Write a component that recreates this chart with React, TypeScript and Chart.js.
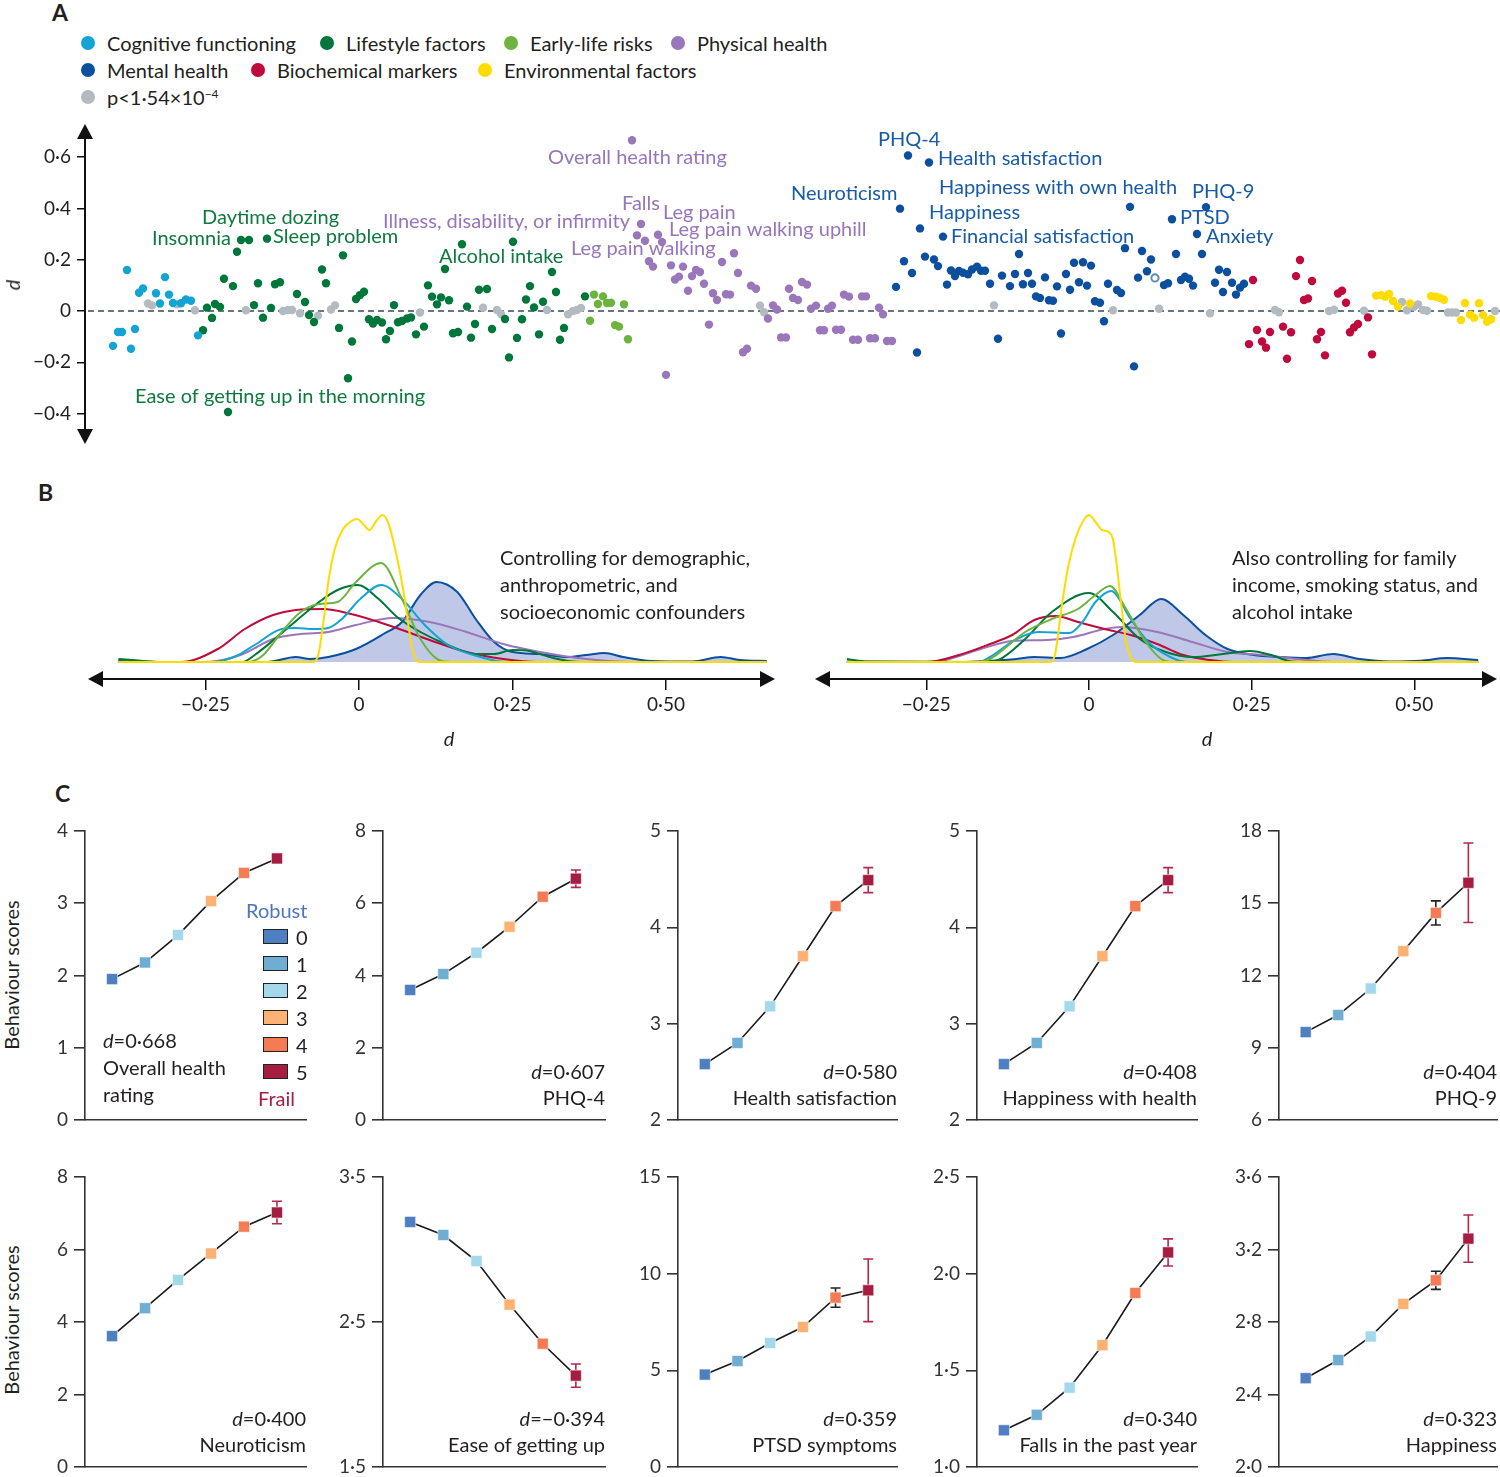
import React, { useEffect, useRef } from "react";
import { Chart, registerables } from "chart.js";

Chart.register(...registerables);

type Pt = [number, number];

const FONT = "Lato, 'Open Sans', 'DejaVu Sans', sans-serif";
const INK = "#231f20";
const AX = "#333333";

// ---------- colours ----------
const COL_COG = "#13a4d3";
const COL_LIFE = "#00773a";
const COL_EARLY = "#6cb33f";
const COL_PHYS = "#9a77ba";
const COL_MENTAL = "#0b4f9e";
const COL_BIO = "#be0a3c";
const COL_ENV = "#ffdc00";
const COL_NS = "#b3bac0";
const FRAIL_COLS = ["#4e7fc0", "#6faed2", "#a3d9ea", "#fdb173", "#f57b54", "#a61d42"];

// ---------- Panel A data: [variable position, d] ----------
const cognitive: Pt[] = [
  [113, -0.136], [118, -0.082], [122, -0.082], [127, 0.16], [131, -0.147], [135, -0.07], [139, 0.071], [143, 0.088],
  [156, 0.069], [160, 0.029], [165, 0.132], [169, 0.064], [173, 0.031], [181, 0.03], [186, 0.045], [191, 0.04], [198, -0.095],
];
const lifestyle: Pt[] = [
  [203, -0.075], [207, 0.013], [212, -0.027], [215, 0.027], [220, 0.016], [224, 0.126], [228, -0.394], [233, 0.097], [237, 0.231],
  [241, 0.277], [249, 0.277], [254, 0.023], [258, 0.108], [263, -0.026], [267, 0.282], [271, 0.012], [275, 0.104], [280, 0.112],
  [297, 0.066], [305, 0.035], [309, -0.016], [314, -0.043], [322, 0.162], [326, 0.108], [339, -0.066], [343, 0.217], [348, -0.262],
  [352, -0.119], [356, 0.047], [360, 0.062], [364, 0.075], [369, -0.032], [373, -0.049], [377, -0.035], [382, -0.045], [386, -0.11],
  [390, -0.078], [394, 0.023], [398, -0.044], [402, -0.039], [407, -0.029], [411, -0.025], [416, -0.091], [424, -0.061], [428, 0.1],
  [432, 0.056], [437, 0.026], [441, 0.053], [445, 0.164], [449, 0.042], [453, -0.087], [458, -0.082], [462, 0.26], [467, 0.017],
  [471, -0.104], [475, -0.051], [479, 0.083], [487, 0.086], [492, -0.07], [505, -0.031], [509, -0.181], [513, 0.27], [517, -0.105],
  [522, -0.032], [526, 0.045], [530, 0.097], [534, 0.014], [539, -0.091], [543, 0.036], [552, 0.152], [556, 0.074], [560, -0.112],
  [564, -0.066], [585, 0.057],
];
const earlyLife: Pt[] = [
  [590, -0.038], [594, 0.064], [598, 0.027], [603, 0.057], [607, 0.031], [611, 0.032], [615, -0.055], [619, -0.061], [624, 0.026], [628, -0.11],
];
const physical: Pt[] = [
  [632, 0.666], [637, 0.295], [641, 0.339], [645, 0.274], [649, 0.194], [653, 0.173], [658, 0.297], [662, 0.269], [666, -0.249],
  [671, 0.178], [675, 0.123], [679, 0.134], [683, 0.173], [688, 0.079], [692, 0.136], [696, 0.16], [700, 0.152], [704, 0.106],
  [709, -0.053], [713, 0.069], [717, 0.043], [722, 0.191], [726, 0.065], [730, 0.064], [734, 0.225], [738, 0.148], [743, -0.161],
  [747, -0.147], [751, 0.099], [756, 0.087], [768, -0.029], [773, 0.022], [777, 0.006], [781, -0.103], [786, -0.103], [789, 0.087],
  [793, 0.051], [798, 0.043], [802, 0.113], [807, 0.103], [811, 0.009], [816, 0.021], [820, -0.075], [824, -0.075], [828, 0.009],
  [832, 0.021], [836, -0.073], [841, -0.073], [844, 0.064], [849, 0.056], [853, -0.112], [858, -0.112], [862, 0.057], [866, 0.057],
  [870, -0.106], [875, -0.106], [879, 0.013], [883, -0.013], [887, -0.117], [892, -0.117],
];
const mental: Pt[] = [
  [896, 0.094], [900, 0.399], [904, 0.194], [908, 0.606], [912, 0.148], [917, -0.162], [920, 0.322], [925, 0.212], [929, 0.579],
  [934, 0.201], [938, 0.175], [943, 0.29], [947, 0.103], [951, 0.158], [955, 0.136], [959, 0.156], [963, 0.149], [968, 0.143],
  [972, 0.162], [977, 0.173], [981, 0.157], [985, 0.157], [990, 0.106], [998, -0.108], [1002, 0.138], [1010, 0.097], [1015, 0.144],
  [1019, 0.222], [1023, 0.104], [1028, 0.148], [1032, 0.106], [1036, 0.057], [1040, 0.051], [1045, 0.131], [1049, 0.042],
  [1053, 0.04], [1057, 0.096], [1061, -0.088], [1066, 0.144], [1070, 0.083], [1074, 0.188], [1079, 0.112], [1083, 0.19],
  [1087, 0.099], [1091, 0.177], [1095, 0.038], [1100, 0.032], [1104, -0.04], [1108, 0.106], [1117, 0.082], [1121, 0.07],
  [1125, 0.245], [1130, 0.406], [1134, -0.216], [1138, 0.13], [1142, 0.234], [1147, 0.155], [1151, 0.201], [1164, 0.101],
  [1168, 0.108], [1172, 0.358], [1176, 0.222], [1181, 0.121], [1185, 0.134], [1189, 0.126], [1193, 0.099], [1197, 0.3],
  [1202, 0.222], [1206, 0.405], [1215, 0.11], [1219, 0.161], [1223, 0.074], [1227, 0.152], [1232, 0.11], [1236, 0.064],
  [1240, 0.091], [1244, 0.106],
];
const mentalOpen: Pt[] = [[1155, 0.129]];
const biochemical: Pt[] = [
  [1249, -0.129], [1253, 0.121], [1257, -0.074], [1262, -0.119], [1266, -0.143], [1270, -0.082], [1283, -0.061], [1287, -0.186],
  [1291, -0.083], [1296, 0.136], [1300, 0.199], [1304, 0.043], [1308, 0.049], [1312, 0.117], [1317, -0.11], [1321, -0.082],
  [1325, -0.173], [1338, 0.068], [1342, 0.079], [1346, 0.032], [1350, -0.083], [1354, -0.064], [1358, -0.051], [1368, -0.025], [1372, -0.169],
];
const environmental: Pt[] = [
  [1376, 0.06], [1381, 0.062], [1385, 0.055], [1389, 0.066], [1393, 0.039], [1398, 0.017], [1410, 0.029], [1431, 0.058],
  [1436, 0.056], [1440, 0.051], [1444, 0.044], [1461, -0.035], [1465, 0.031], [1470, -0.014], [1474, -0.026], [1479, 0.03],
  [1483, -0.016], [1487, -0.042], [1491, -0.032],
];
const nonSignificant: Pt[] = [
  [148, 0.029], [152, 0.022], [177, 0.026], [195, 0.003], [246, 0.003], [283, 0], [288, 0.004], [292, 0.004], [300, -0.009],
  [318, -0.018], [331, 0.006], [335, 0.022], [420, -0.006], [483, 0.013], [497, 0.004], [501, -0.012], [547, 0.004], [568, -0.013],
  [573, 0], [577, 0.004], [581, 0.012], [760, 0.021], [764, -0.005], [994, 0.022], [1113, 0.003], [1159, 0.009], [1210, -0.009],
  [1275, 0.004], [1279, -0.005], [1329, 0], [1334, 0.005], [1364, 0.001], [1402, 0.035], [1407, 0.003], [1414, 0.016], [1418, 0.026],
  [1423, 0.004], [1427, 0.001], [1448, -0.006], [1452, -0.006], [1456, -0.006], [1495, 0],
];
const aTicks = [-0.4, -0.2, 0, 0.2, 0.4, 0.6];

// labelled variables: text, anchor position, anchor d, group
const aLabels: [string, number, number, string][] = [
  ["Daytime dozing", 202, 0.363, "life"],
  ["Insomnia", 152, 0.281, "life"],
  ["Sleep problem", 273, 0.292, "life"],
  ["Ease of getting up in the morning", 135, -0.335, "life"],
  ["Alcohol intake", 439, 0.214, "life"],
  ["Illness, disability, or infirmity", 383, 0.347, "phys"],
  ["Overall health rating", 548, 0.6, "phys"],
  ["Falls", 622, 0.417, "phys"],
  ["Leg pain", 663, 0.382, "phys"],
  ["Leg pain walking uphill", 669, 0.316, "phys"],
  ["Leg pain walking", 571, 0.242, "phys"],
  ["PHQ-4", 878, 0.667, "ment"],
  ["Health satisfaction", 938, 0.593, "ment"],
  ["Neuroticism", 791, 0.456, "ment"],
  ["Happiness with own health", 939, 0.48, "ment"],
  ["Happiness", 929, 0.382, "ment"],
  ["Financial satisfaction", 951, 0.289, "ment"],
  ["PHQ-9", 1192, 0.464, "ment"],
  ["PTSD", 1180, 0.363, "ment"],
  ["Anxiety", 1206, 0.289, "ment"],
];
const LABEL_COL: Record<string, string> = { life: "#0d7a3e", phys: "#9775ba", ment: "#175aa7" };

// ---------- Panel B data: [d, density height] ----------
const bL_env: Pt[] = [[-0.392, 0], [-0.075, 0], [-0.066, 8], [-0.058, 40], [-0.05, 80], [-0.04, 112], [-0.027, 132], [-0.012, 141], [-0.003, 143], [0.008, 137], [0.017, 132], [0.028, 141], [0.038, 147], [0.047, 140], [0.055, 123], [0.065, 95], [0.074, 65], [0.082, 30], [0.089, 7], [0.1, 0], [0.664, 0]];
const bL_early: Pt[] = [[-0.392, 0], [-0.18, 0], [-0.156, 7], [-0.126, 30], [-0.095, 50], [-0.065, 58], [-0.035, 60], [-0.005, 80], [0.036, 99], [0.07, 63], [0.1, 23], [0.13, 2], [0.15, 0], [0.664, 0]];
const bL_cog: Pt[] = [[-0.392, 0], [-0.24, 0], [-0.2, 6], [-0.17, 17], [-0.126, 33], [-0.103, 34], [-0.075, 33], [-0.05, 34], [-0.028, 43], [0.002, 63], [0.036, 77], [0.07, 63], [0.107, 37], [0.145, 17], [0.198, 5], [0.24, 0], [0.664, 0]];
const bL_life: Pt[] = [[-0.392, 3], [-0.37, 2], [-0.33, 0], [-0.19, 0], [-0.17, 7], [-0.118, 33], [-0.065, 60], [-0.035, 72], [-0.002, 77], [0.032, 63], [0.062, 45], [0.1, 30], [0.145, 17], [0.19, 8], [0.22, 8], [0.25, 12], [0.277, 11], [0.31, 5], [0.34, 1], [0.37, 0], [0.664, 0]];
const bL_bio: Pt[] = [[-0.392, 0], [-0.29, 0], [-0.23, 13], [-0.186, 33], [-0.14, 47], [-0.103, 52], [-0.058, 53], [-0.013, 48], [0.032, 40], [0.07, 32], [0.115, 22], [0.175, 10], [0.235, 3], [0.29, 0], [0.664, 0]];
const bL_phys: Pt[] = [[-0.392, 0], [-0.25, 0], [-0.193, 7], [-0.14, 23], [-0.095, 28], [-0.05, 30], [-0.005, 37], [0.055, 44], [0.115, 40], [0.175, 30], [0.235, 18], [0.295, 10], [0.37, 3], [0.446, 0], [0.664, 0]];
const bL_mental: Pt[] = [[-0.392, 1], [-0.3, 0], [-0.15, 0], [-0.103, 5], [-0.08, 3], [-0.05, 5], [-0.005, 13], [0.04, 28], [0.07, 40], [0.1, 67], [0.126, 80], [0.16, 70], [0.19, 43], [0.22, 20], [0.25, 10], [0.295, 8], [0.34, 5], [0.37, 7], [0.4, 9], [0.43, 5], [0.476, 1], [0.543, 0.5], [0.589, 5], [0.62, 2], [0.664, 1]];

const bR_env: Pt[] = [[-0.372, 0], [-0.06, 0], [-0.052, 8], [-0.042, 55], [-0.032, 95], [-0.02, 125], [-0.008, 142], [0, 147], [0.01, 140], [0.02, 132], [0.03, 130], [0.037, 122], [0.043, 95], [0.05, 55], [0.057, 20], [0.064, 5], [0.072, 0], [0.598, 0]];
const bR_early: Pt[] = [[-0.372, 0], [-0.17, 0], [-0.152, 3], [-0.098, 30], [-0.057, 43], [-0.017, 53], [0.01, 67], [0.032, 76], [0.057, 53], [0.084, 23], [0.111, 3], [0.13, 0], [0.598, 0]];
const bR_cog: Pt[] = [[-0.372, 0], [-0.17, 0], [-0.152, 5], [-0.111, 23], [-0.078, 30], [-0.03, 29], [-0.01, 40], [0.01, 60], [0.034, 71], [0.064, 43], [0.091, 20], [0.125, 5], [0.15, 0], [0.598, 0]];
const bR_life: Pt[] = [[-0.372, 3], [-0.34, 0.5], [-0.16, 0], [-0.139, 2], [-0.098, 23], [-0.057, 50], [0, 69], [0.037, 50], [0.078, 23], [0.118, 10], [0.159, 5], [0.206, 8], [0.247, 11], [0.28, 7], [0.307, 1], [0.33, 0], [0.598, 0]];
const bR_bio: Pt[] = [[-0.372, 0], [-0.25, 0], [-0.2, 7], [-0.152, 18], [-0.118, 27], [-0.084, 42], [-0.051, 46], [-0.017, 40], [0.024, 33], [0.064, 27], [0.105, 18], [0.145, 7], [0.186, 2], [0.22, 0], [0.598, 0]];
const bR_phys: Pt[] = [[-0.372, 0], [-0.25, 0], [-0.22, 2], [-0.166, 13], [-0.118, 21], [-0.064, 22], [-0.024, 25], [0.024, 33], [0.051, 35], [0.105, 30], [0.159, 20], [0.213, 10], [0.267, 7], [0.321, 3], [0.375, 0], [0.598, 0]];
const bR_mental: Pt[] = [[-0.372, 0.5], [-0.2, 0], [-0.111, 3], [-0.084, 5], [-0.044, 4], [-0.003, 13], [0.037, 27], [0.078, 47], [0.111, 63], [0.145, 47], [0.179, 27], [0.213, 13], [0.253, 7], [0.294, 5], [0.334, 4], [0.375, 8], [0.416, 3], [0.463, 0.5], [0.51, 1.3], [0.55, 4], [0.598, 2]];
const bTicks = [-0.25, 0, 0.25, 0.5];

// ---------- Panel C data (frailty 0..5) ----------
const frailtyLevels = [0, 1, 2, 3, 4, 5];
const c1Vals = [1.95, 2.18, 2.56, 3.03, 3.42, 3.62];
const c1Err = [0, 0, 0, 0, 0, 0];
const c2Vals = [3.6, 4.04, 4.63, 5.35, 6.18, 6.68];
const c2Err = [0, 0, 0, 0, 0, 0.24];
const c3Vals = [2.58, 2.8, 3.18, 3.7, 4.22, 4.49];
const c3Err = [0, 0, 0, 0, 0.03, 0.13];
const c4Vals = [2.58, 2.8, 3.18, 3.7, 4.22, 4.49];
const c4Err = [0, 0, 0, 0, 0.03, 0.13];
const c5Vals = [9.65, 10.36, 11.46, 13.01, 14.6, 15.85];
const c5Err = [0, 0, 0, 0, 0.5, 1.65];
const c6Vals = [3.61, 4.38, 5.16, 5.89, 6.63, 7.02];
const c6Err = [0, 0, 0, 0, 0, 0.31];
const c7Vals = [3.19, 3.1, 2.92, 2.62, 2.35, 2.13];
const c7Err = [0, 0, 0, 0, 0, 0.08];
const c8Vals = [4.78, 5.48, 6.41, 7.24, 8.76, 9.14];
const c8Err = [0, 0, 0, 0, 0.5, 1.62];
const c9Vals = [1.19, 1.27, 1.41, 1.63, 1.9, 2.11];
const c9Err = [0, 0, 0, 0, 0, 0.07];
const c10Vals = [2.49, 2.59, 2.72, 2.9, 3.03, 3.26];
const c10Err = [0, 0, 0, 0, 0.05, 0.13];

const c1Ticks = [0, 1, 2, 3, 4];
const c2Ticks = [0, 2, 4, 6, 8];
const c3Ticks = [2, 3, 4, 5];
const c5Ticks = [6, 9, 12, 15, 18];
const c7Ticks = [1.5, 2.5, 3.5];
const c8Ticks = [0, 5, 10, 15];
const c9Ticks = [1, 1.5, 2, 2.5];
const c10Ticks = [2, 2.4, 2.8, 3.2, 3.6];

// ---------- helpers ----------
function fmt(v: number, dec: number): string {
  if (Math.abs(v) < 1e-9) return "0";
  const s = Math.abs(v).toFixed(dec).replace(".", "\u00b7");
  return (v < 0 ? "\u2212" : "") + s;
}

function ChartCanvas({ x, y, w, h, make }: { x: number; y: number; w: number; h: number; make: () => any }) {
  const ref = useRef<HTMLCanvasElement | null>(null);
  useEffect(() => {
    if (!ref.current) return;
    const c = new Chart(ref.current, make());
    return () => c.destroy();
  }, []);
  return <canvas ref={ref} width={w} height={h} style={{ position: "absolute", left: x, top: y, width: w, height: h }} />;
}

function T({ x, y, children, size = 20, align = "left", color = INK, italic = false, bold = false }: any) {
  const style: any = {
    position: "absolute",
    top: y - size * 0.66,
    lineHeight: `${Math.round(size * 1.32)}px`,
    fontSize: size,
    color,
    whiteSpace: "nowrap",
    fontStyle: italic ? "italic" : "normal",
    fontWeight: bold ? 700 : 400,
  };
  if (align === "right") {
    style.right = 1500 - x;
    style.textAlign = "right";
  } else if (align === "center") {
    style.left = x;
    style.transform = "translateX(-50%)";
  } else {
    style.left = x;
  }
  return <div style={style}>{children}</div>;
}

// ---------- Panel A ----------
const aPlugin = {
  id: "aDecor",
  beforeDatasetsDraw(chart: any) {
    const { ctx, chartArea, scales } = chart;
    const y0 = scales.y.getPixelForValue(0);
    ctx.save();
    ctx.strokeStyle = "#34495a";
    ctx.lineWidth = 1.3;
    ctx.setLineDash([6, 4]);
    ctx.beginPath();
    ctx.moveTo(chartArea.left + 3, y0);
    ctx.lineTo(chartArea.right, y0);
    ctx.stroke();
    ctx.restore();
  },
  afterDraw(chart: any) {
    const { ctx, chartArea, scales } = chart;
    const L = chartArea.left;
    ctx.save();
    ctx.fillStyle = "#111";
    ctx.beginPath();
    ctx.moveTo(L, chartArea.top - 4);
    ctx.lineTo(L - 8, chartArea.top + 11);
    ctx.lineTo(L + 8, chartArea.top + 11);
    ctx.closePath();
    ctx.fill();
    ctx.beginPath();
    ctx.moveTo(L, chartArea.bottom + 4);
    ctx.lineTo(L - 8, chartArea.bottom - 11);
    ctx.lineTo(L + 8, chartArea.bottom - 11);
    ctx.closePath();
    ctx.fill();
    ctx.font = `20px ${FONT}`;
    ctx.textBaseline = "middle";
    ctx.textAlign = "left";
    aLabels.forEach(([text, px, d, g]) => {
      ctx.fillStyle = LABEL_COL[g];
      ctx.fillText(text, scales.x.getPixelForValue(px), scales.y.getPixelForValue(d));
    });
    ctx.restore();
  },
};

function makeA() {
  const ds = (data: Pt[], color: string, extra: any = {}) => ({
    data: data.map(([x, y]) => ({ x, y })),
    backgroundColor: color,
    borderColor: color,
    pointRadius: 4.2,
    pointHoverRadius: 4.2,
    pointBorderWidth: 0,
    ...extra,
  });
  return {
    type: "scatter",
    data: {
      datasets: [
        ds(cognitive, COL_COG),
        ds(lifestyle, COL_LIFE),
        ds(earlyLife, COL_EARLY),
        ds(physical, COL_PHYS),
        ds(mentalOpen, "#ffffff", { borderColor: "#5a8db5", pointBorderWidth: 2, pointRadius: 3.6 }),
        ds(mental, COL_MENTAL),
        ds(biochemical, COL_BIO),
        ds(environmental, COL_ENV),
        ds(nonSignificant, COL_NS),
      ],
    },
    options: {
      responsive: false,
      animation: false,
      devicePixelRatio: 1,
      layout: { autoPadding: false, padding: { top: 18, bottom: 20, left: 0, right: 0 } },
      plugins: { legend: { display: false }, tooltip: { enabled: false } },
      scales: {
        x: { type: "linear", min: 85, max: 1500, display: false },
        y: {
          type: "linear",
          min: -0.503,
          max: 0.7135,
          afterFit: (s: any) => { s.width = 85; },
          afterBuildTicks: (s: any) => { s.ticks = aTicks.map((v) => ({ value: v })); },
          ticks: { callback: (v: any) => fmt(Number(v), 1), font: { family: FONT, size: 19 }, color: INK, padding: 6 },
          grid: { drawOnChartArea: false, drawTicks: true, tickLength: 8, color: "#111", lineWidth: 1.5 },
          border: { display: true, color: "#111", width: 2 },
        },
      },
    },
    plugins: [aPlugin],
  };
}

// ---------- Panel B ----------
const arrowAxisPlugin = {
  id: "arrowAxis",
  afterDraw(chart: any) {
    const { ctx, chartArea } = chart;
    const yb = chartArea.bottom;
    ctx.save();
    ctx.strokeStyle = "#111";
    ctx.fillStyle = "#111";
    ctx.lineWidth = 2;
    ctx.beginPath();
    ctx.moveTo(chartArea.left + 8, yb);
    ctx.lineTo(chartArea.right - 8, yb);
    ctx.stroke();
    ctx.beginPath();
    ctx.moveTo(chartArea.left, yb);
    ctx.lineTo(chartArea.left + 15, yb - 8);
    ctx.lineTo(chartArea.left + 15, yb + 8);
    ctx.closePath();
    ctx.fill();
    ctx.beginPath();
    ctx.moveTo(chartArea.right, yb);
    ctx.lineTo(chartArea.right - 15, yb - 8);
    ctx.lineTo(chartArea.right - 15, yb + 8);
    ctx.closePath();
    ctx.fill();
    ctx.restore();
  },
};

function makeDensity(curves: [Pt[], string][], xmin: number, xmax: number, padL: number, padR: number) {
  return {
    type: "line",
    data: {
      datasets: curves.map(([pts, color]) => ({
        data: pts.map(([x, y]) => ({ x, y })),
        borderColor: color,
        borderWidth: 2,
        pointRadius: 0,
        cubicInterpolationMode: "monotone",
        fill: color === COL_MENTAL ? "origin" : false,
        backgroundColor: color === COL_MENTAL ? "rgba(140,154,212,0.55)" : color,
      })),
    },
    options: {
      responsive: false,
      animation: false,
      devicePixelRatio: 1,
      layout: { autoPadding: false, padding: { left: padL, right: padR, top: 10, bottom: 0 } },
      plugins: { legend: { display: false }, tooltip: { enabled: false } },
      scales: {
        x: {
          type: "linear",
          min: xmin,
          max: xmax,
          afterBuildTicks: (s: any) => { s.ticks = bTicks.map((v) => ({ value: v })); },
          afterFit: (s: any) => { s.height = 61; },
          ticks: { callback: (v: any) => fmt(Number(v), 2), font: { family: FONT, size: 19 }, color: INK, padding: 3, maxRotation: 0, autoSkip: false },
          grid: { drawOnChartArea: false, drawTicks: true, tickLength: 11, color: "#111", lineWidth: 1.5 },
          border: { display: false },
        },
        y: { type: "linear", min: -17, max: 157, display: false },
      },
    },
    plugins: [arrowAxisPlugin],
  };
}

// ---------- Panel C ----------
const errPlugin = {
  id: "errBars",
  beforeDatasetsDraw(chart: any) {
    const ds = chart.data.datasets[0];
    const errs: number[] = ds.errs || [];
    const { ctx, scales } = chart;
    ctx.save();
    ctx.lineWidth = 1.6;
    ds.data.forEach((p: any, i: number) => {
      const e = errs[i];
      if (!e) return;
      const px = scales.x.getPixelForValue(p.x);
      const y1 = scales.y.getPixelForValue(p.y + e);
      const y2 = scales.y.getPixelForValue(p.y - e);
      ctx.strokeStyle = i === 5 ? "#b3294f" : "#222";
      ctx.beginPath();
      ctx.moveTo(px, y1);
      ctx.lineTo(px, y2);
      ctx.moveTo(px - 5, y1);
      ctx.lineTo(px + 5, y1);
      ctx.moveTo(px - 5, y2);
      ctx.lineTo(px + 5, y2);
      ctx.stroke();
    });
    ctx.restore();
  },
};

function makeSmall(vals: number[], errs: number[], min: number, max: number, ticks: number[], dec: number) {
  return {
    type: "line",
    data: {
      datasets: [
        {
          data: vals.map((v, i) => ({ x: frailtyLevels[i], y: v })),
          errs,
          borderColor: "#1a1a1a",
          borderWidth: 1.6,
          pointStyle: "rect",
          pointRadius: 7.8,
          pointHoverRadius: 7.8,
          pointBackgroundColor: FRAIL_COLS,
          pointBorderColor: "rgba(255,255,255,0.55)",
          pointBorderWidth: 1,
          tension: 0,
        },
      ],
    },
    options: {
      responsive: false,
      animation: false,
      devicePixelRatio: 1,
      layout: { autoPadding: false, padding: { left: 0, right: 10, top: 22, bottom: 22 } },
      plugins: { legend: { display: false }, tooltip: { enabled: false } },
      scales: {
        x: {
          type: "linear",
          min: -0.82,
          max: 5.88,
          ticks: { display: false },
          grid: { display: false },
          border: { display: true, color: AX, width: 1.6 },
          afterFit: (s: any) => { s.height = 0; },
        },
        y: {
          type: "linear",
          min,
          max,
          afterBuildTicks: (s: any) => { s.ticks = ticks.map((v) => ({ value: v })); },
          afterFit: (s: any) => { s.width = 60; },
          ticks: { callback: (v: any) => fmt(Number(v), dec), font: { family: FONT, size: 19 }, color: "#333", padding: 6 },
          grid: { drawOnChartArea: false, drawTicks: true, tickLength: 11, color: AX, lineWidth: 1.6 },
          border: { display: true, color: AX, width: 1.6 },
        },
      },
    },
    plugins: [errPlugin],
  };
}

const C_AXIS_X = [85, 383, 678, 977, 1279];
const C_END_X = [306, 605, 897, 1197, 1497];
const C_TOP = [831, 1177];
const C_BOT = [1120, 1467];

const cCharts: [number[], number[], number, number, number[], number][] = [
  [c1Vals, c1Err, 0, 4, c1Ticks, 0],
  [c2Vals, c2Err, 0, 8, c2Ticks, 0],
  [c3Vals, c3Err, 2, 5, c3Ticks, 0],
  [c4Vals, c4Err, 2, 5, c3Ticks, 0],
  [c5Vals, c5Err, 6, 18, c5Ticks, 0],
  [c6Vals, c6Err, 0, 8, c2Ticks, 0],
  [c7Vals, c7Err, 1.5, 3.5, c7Ticks, 1],
  [c8Vals, c8Err, 0, 15, c8Ticks, 0],
  [c9Vals, c9Err, 1, 2.5, c9Ticks, 1],
  [c10Vals, c10Err, 2, 3.6, c10Ticks, 1],
];
const cNotes: [string, string][] = [
  ["0\u00b7668", "Overall health rating"],
  ["0\u00b7607", "PHQ-4"],
  ["0\u00b7580", "Health satisfaction"],
  ["0\u00b7408", "Happiness with health"],
  ["0\u00b7404", "PHQ-9"],
  ["0\u00b7400", "Neuroticism"],
  ["\u22120\u00b7394", "Ease of getting up"],
  ["0\u00b7359", "PTSD symptoms"],
  ["0\u00b7340", "Falls in the past year"],
  ["0\u00b7323", "Happiness"],
];

const legendA: [number, number, string, string][] = [
  [88, 43, "Cognitive functioning", COL_COG],
  [327, 43, "Lifestyle factors", COL_LIFE],
  [511, 43, "Early-life risks", COL_EARLY],
  [678, 43, "Physical health", COL_PHYS],
  [88, 70, "Mental health", COL_MENTAL],
  [258, 70, "Biochemical markers", COL_BIO],
  [485, 70, "Environmental factors", COL_ENV],
];

export default function App() {
  return (
    <div style={{ position: "absolute", left: 0, top: 0, width: 1500, height: 1477, background: "#fff", fontFamily: FONT, color: INK, overflow: "hidden" }}>
      {/* Panel A */}
      <ChartCanvas x={0} y={110} w={1500} h={350} make={makeA} />
      {/* Panel B */}
      <ChartCanvas
        x={80} y={495} w={705} h={245}
        make={() => makeDensity([[bL_env, COL_ENV], [bL_early, COL_EARLY], [bL_cog, COL_COG], [bL_life, COL_LIFE], [bL_bio, COL_BIO], [bL_phys, COL_PHYS], [bL_mental, COL_MENTAL]], -0.4414, 0.6775, 8, 10)}
      />
      <ChartCanvas
        x={805} y={495} w={695} h={245}
        make={() => makeDensity([[bR_env, COL_ENV], [bR_early, COL_EARLY], [bR_cog, COL_COG], [bR_life, COL_LIFE], [bR_bio, COL_BIO], [bR_phys, COL_PHYS], [bR_mental, COL_MENTAL]], -0.421, 0.627, 10, 3)}
      />
      {/* Panel C */}
      {cCharts.map(([vals, errs, mn, mx, ticks, dec], i) => {
        const col = i % 5;
        const row = Math.floor(i / 5);
        const ax = C_AXIS_X[col];
        const ex = C_END_X[col];
        const top = C_TOP[row];
        const bot = C_BOT[row];
        return (
          <ChartCanvas key={i} x={ax - 60} y={top - 22} w={ex - ax + 70} h={bot - top + 44} make={() => makeSmall(vals, errs, mn, mx, ticks, dec)} />
        );
      })}

      {/* Panel letters */}
      <T x={52} y={12} size={23} bold>A</T>
      <T x={38} y={492} size={23} bold>B</T>
      <T x={55} y={793} size={23} bold>C</T>

      {/* Legend A */}
      {legendA.map(([x, y, label, color], i) => (
        <React.Fragment key={i}>
          <div style={{ position: "absolute", left: x - 7, top: y - 7, width: 14, height: 14, borderRadius: 7, background: color }} />
          <T x={x + 19} y={y}>{label}</T>
        </React.Fragment>
      ))}
      <div style={{ position: "absolute", left: 81, top: 90, width: 14, height: 14, borderRadius: 7, background: COL_NS }} />
      <T x={107} y={97}>
        p&lt;1·54×10<sup style={{ fontSize: 12, verticalAlign: "7px", lineHeight: 0 }}>−4</sup>
      </T>
      <div style={{ position: "absolute", left: 12, top: 285, transform: "translate(-50%,-50%) rotate(-90deg)", fontSize: 20, fontStyle: "italic" }}>d</div>

      {/* Panel B annotations */}
      <T x={500} y={557}>Controlling for demographic,</T>
      <T x={500} y={584}>anthropometric, and</T>
      <T x={500} y={611}>socioeconomic confounders</T>
      <T x={1232} y={557}>Also controlling for family</T>
      <T x={1232} y={584}>income, smoking status, and</T>
      <T x={1232} y={611}>alcohol intake</T>
      <T x={449} y={738} align="center" italic>d</T>
      <T x={1207} y={738} align="center" italic>d</T>

      {/* Panel C annotations */}
      <T x={103} y={1040}><i>d</i>={cNotes[0][0]}</T>
      <T x={103} y={1067}>Overall health</T>
      <T x={103} y={1094}>rating</T>
      {cNotes.slice(1).map(([d, name], k) => {
        const i = k + 1;
        const col = i % 5;
        const row = Math.floor(i / 5);
        const ex = C_END_X[col];
        const y1 = row === 0 ? 1071 : 1418;
        return (
          <React.Fragment key={i}>
            <T x={ex} y={y1} align="right"><i>d</i>={d}</T>
            <T x={ex} y={y1 + 26} align="right">{name}</T>
          </React.Fragment>
        );
      })}

      {/* Frailty legend */}
      <T x={246} y={910} color="#4a78b8">Robust</T>
      {frailtyLevels.map((lv, i) => (
        <React.Fragment key={lv}>
          <div style={{ position: "absolute", left: 263, top: 929 + i * 27, width: 23, height: 13, background: FRAIL_COLS[i], border: "1.5px solid #222" }} />
          <T x={296} y={937 + i * 27}>{String(lv)}</T>
        </React.Fragment>
      ))}
      <T x={258} y={1098} color="#a61d42">Frail</T>

      <div style={{ position: "absolute", left: 11, top: 975, transform: "translate(-50%,-50%) rotate(-90deg)", fontSize: 20, whiteSpace: "nowrap" }}>Behaviour scores</div>
      <div style={{ position: "absolute", left: 11, top: 1320, transform: "translate(-50%,-50%) rotate(-90deg)", fontSize: 20, whiteSpace: "nowrap" }}>Behaviour scores</div>
    </div>
  );
}
